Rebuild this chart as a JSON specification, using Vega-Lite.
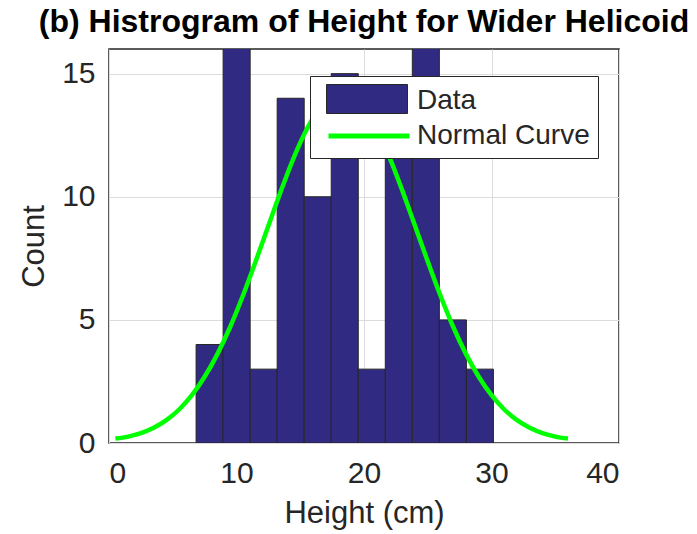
{
  "$schema": "https://vega.github.io/schema/vega-lite/v6.json",
  "width": 510,
  "height": 394,
  "autosize": {"type": "none"},
  "padding": {"left": 109, "top": 49, "right": 78, "bottom": 91},
  "background": "white",
  "title": {
    "text": "(b) Histrogram of Height for Wider Helicoid",
    "font": "Liberation Sans",
    "fontSize": 32,
    "fontWeight": "bold",
    "color": "#000000",
    "anchor": "middle",
    "offset": 10
  },
  "config": {
    "view": {"stroke": "#262626", "strokeWidth": 1.5},
    "axis": {
      "labelFont": "Liberation Sans",
      "titleFont": "Liberation Sans",
      "labelFontSize": 30,
      "titleFontSize": 31,
      "titleFontWeight": "normal",
      "labelColor": "#262626",
      "titleColor": "#262626",
      "gridColor": "#dcdcdc",
      "gridWidth": 1,
      "domain": false,
      "tickColor": "#262626",
      "tickSize": 0
    }
  },
  "datasets": {
    "bins": [
      {"start": 6.83, "end": 8.95, "count": 4},
      {"start": 8.95, "end": 11.07, "count": 17},
      {"start": 11.07, "end": 13.19, "count": 3},
      {"start": 13.19, "end": 15.31, "count": 14},
      {"start": 15.31, "end": 17.43, "count": 10},
      {"start": 17.43, "end": 19.55, "count": 15},
      {"start": 19.55, "end": 21.67, "count": 3},
      {"start": 21.67, "end": 23.79, "count": 14},
      {"start": 23.79, "end": 25.91, "count": 17},
      {"start": 25.91, "end": 28.03, "count": 5},
      {"start": 28.03, "end": 30.15, "count": 3}
    ],
    "curve": [
      {"h": 0.5, "v": 0.18}, {"h": 1.5, "v": 0.26}, {"h": 2.5, "v": 0.40},
      {"h": 3.5, "v": 0.62}, {"h": 4.5, "v": 0.93}, {"h": 5.5, "v": 1.36},
      {"h": 6.5, "v": 1.94}, {"h": 7.5, "v": 2.69}, {"h": 8.5, "v": 3.61},
      {"h": 9.5, "v": 4.71}, {"h": 10.5, "v": 5.98}, {"h": 11.5, "v": 7.37},
      {"h": 12.5, "v": 8.82}, {"h": 13.5, "v": 10.26}, {"h": 14.5, "v": 11.60},
      {"h": 15.5, "v": 12.73}, {"h": 16.5, "v": 13.59}, {"h": 17.5, "v": 14.09},
      {"h": 18.25, "v": 14.2}, {"h": 19.0, "v": 14.09}, {"h": 20.0, "v": 13.59},
      {"h": 21.0, "v": 12.73}, {"h": 22.0, "v": 11.60}, {"h": 23.0, "v": 10.26},
      {"h": 24.0, "v": 8.82}, {"h": 25.0, "v": 7.37}, {"h": 26.0, "v": 5.98},
      {"h": 27.0, "v": 4.71}, {"h": 28.0, "v": 3.61}, {"h": 29.0, "v": 2.69},
      {"h": 30.0, "v": 1.94}, {"h": 31.0, "v": 1.36}, {"h": 32.0, "v": 0.93},
      {"h": 33.0, "v": 0.62}, {"h": 34.0, "v": 0.40}, {"h": 35.0, "v": 0.26},
      {"h": 36.0, "v": 0.18}
    ]
  },
  "layer": [
    {
      "data": {"name": "bins"},
      "mark": {"type": "bar", "stroke": "#262626", "strokeWidth": 1, "clip": true, "opacity": 1},
      "encoding": {
        "x": {
          "field": "start", "type": "quantitative",
          "scale": {"domain": [0, 40], "nice": false, "zero": false},
          "axis": {"title": "Height (cm)", "values": [0, 10, 20, 30, 40], "labelPadding": 15, "titlePadding": 10, "grid": true}
        },
        "x2": {"field": "end"},
        "y": {
          "field": "count", "type": "quantitative",
          "scale": {"domain": [0, 16], "nice": false},
          "axis": {"title": "Count", "values": [0, 5, 10, 15], "labelPadding": 14, "titlePadding": 11, "grid": true}
        },
        "y2": {"datum": 0},
        "fill": {
          "datum": "Data",
          "scale": {"domain": ["Data"], "range": ["#312A82"]},
          "legend": {
            "title": null,
            "orient": "none",
            "legendX": 201,
            "legendY": 27,
            "direction": "vertical",
            "padding": 8,
            "symbolOffset": 8,
            "symbolSize": 841,
            "symbolType": "M-1,-1H4.586V1H-1Z",
            "symbolStrokeColor": "#262626",
            "symbolStrokeWidth": 1,
            "labelFont": "Liberation Sans",
            "labelFontSize": 28,
            "labelColor": "transparent",
            "labelExpr": "''",
            "labelOffset": 57,
            "labelLimit": 500,
            "rowPadding": 4,
            "zindex": 2
          }
        }
      }
    },
    {
      "data": {"name": "curve"},
      "mark": {"type": "line", "strokeWidth": 4.5, "interpolate": "monotone", "clip": true},
      "encoding": {
        "x": {"field": "h", "type": "quantitative"},
        "y": {"field": "v", "type": "quantitative"},
        "stroke": {
          "datum": "Normal Curve",
          "scale": {"domain": ["Data", "Normal Curve"], "range": ["transparent", "#00FF00"]},
          "legend": {
            "title": null,
            "orient": "none",
            "legendX": 201,
            "legendY": 27,
            "direction": "vertical",
            "padding": 8,
            "symbolOffset": 8,
            "symbolSize": 841,
            "symbolType": "M-1,0H4.586",
            "symbolStrokeWidth": 5,
            "labelFont": "Liberation Sans",
            "labelFontSize": 28,
            "labelColor": "#262626",
            "labelOffset": 57,
            "labelLimit": 500,
            "rowPadding": 4,
            "strokeColor": "#262626",
            "fillColor": "white",
            "zindex": 1
          }
        }
      }
    }
  ]
}
